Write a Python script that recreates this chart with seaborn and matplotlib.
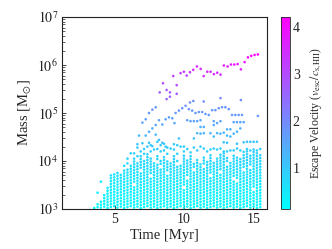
import numpy as np
import pandas as pd
import matplotlib
matplotlib.use("Agg")
import matplotlib.pyplot as plt
import seaborn as sns

# ============================================================================
# DATA
# ============================================================================

# snapshot times [Myr] of the dense low-mass band
snap_t = [3.50, 3.74, 3.98, 4.22, 4.46, 4.70, 4.94, 5.18, 5.42, 5.66,
          5.90, 6.14, 6.38, 6.62, 6.86, 7.10, 7.34, 7.58, 7.82, 8.06,
          8.30, 8.54, 8.78, 9.02, 9.26, 9.50, 9.74, 9.98, 10.22, 10.46,
          10.70, 10.94, 11.18, 11.42, 11.66, 11.90, 12.14, 12.38, 12.62, 12.86,
          13.10, 13.34, 13.58, 13.82, 14.06, 14.30, 14.54, 14.78, 15.02, 15.26,
          15.50]
# log10 of the highest mass reached by the dense band in each snapshot
band_top = [3.05, 3.10, 3.20, 3.30, 3.45, 3.75, 3.75, 3.78, 3.75, 3.80,
            3.85, 3.95, 4.05, 3.95, 4.10, 4.00, 4.15, 4.05, 4.00, 4.15,
            4.05, 4.10, 4.00, 3.95, 4.10, 4.00, 3.95, 4.15, 4.05, 4.10,
            3.95, 4.05, 3.95, 4.10, 4.00, 4.15, 4.05, 4.10, 4.15, 4.20,
            4.10, 4.00, 4.15, 4.10, 4.05, 4.15, 4.20, 4.15, 4.20, 4.20,
            4.15]
# small vertical offset of the band points in each snapshot
band_shift = [0.00, 0.02, 0.01, 0.03, 0.00, 0.02, 0.04, 0.01, 0.03, 0.00,
              0.02, 0.04, 0.01, 0.03, 0.00, 0.02, 0.04, 0.01, 0.03, 0.00,
              0.02, 0.04, 0.01, 0.03, 0.00, 0.02, 0.04, 0.01, 0.03, 0.00,
              0.02, 0.04, 0.01, 0.03, 0.00, 0.02, 0.04, 0.01, 0.03, 0.00,
              0.02, 0.04, 0.01, 0.03, 0.00, 0.02, 0.04, 0.01, 0.03, 0.00,
              0.02]
# mass levels (log10) inside the band and their escape velocities
band_logm = [3.02, 3.08, 3.14, 3.20, 3.26, 3.32, 3.38, 3.44, 3.50, 3.56,
             3.62, 3.68, 3.74, 3.80, 3.86, 3.92, 3.98, 4.04, 4.10, 4.16]
band_vesc = [0.22, 0.25, 0.28, 0.31, 0.34, 0.37, 0.40, 0.43, 0.46, 0.50,
             0.54, 0.58, 0.62, 0.66, 0.70, 0.74, 0.78, 0.82, 0.86, 0.90]
# levels that are empty in a given snapshot (snapshot index, level index)
band_gap_col = [14, 17, 20, 22, 25, 28, 30, 33, 35, 38, 40, 43, 45, 47, 12, 19, 27, 36, 42, 48]
band_gap_lev = [13, 11, 14, 12, 15, 10, 13, 14, 11, 12, 15, 9, 13, 14, 8, 16, 7, 16, 10, 6]

# sparse cyan clusters just above the band
upper_t = [3.74, 3.98, 5.66, 5.90, 5.90, 6.14, 6.38, 6.62, 6.62, 6.86,
           7.10, 7.10, 7.34, 7.58, 7.58, 7.82, 8.06, 8.06, 8.30, 8.30,
           8.54, 8.54, 8.78, 8.78, 9.02, 9.26, 9.26, 9.50, 9.50, 9.74,
           9.98, 9.98, 10.22, 10.46, 10.70, 10.94, 11.18, 11.42, 11.66, 11.90,
           12.14, 12.38, 12.62, 12.86, 13.10, 13.34, 13.58, 13.82, 14.06, 14.30,
           14.54, 14.78, 15.02, 15.26, 15.50]
upper_logm = [3.34, 3.57, 3.90, 3.95, 4.05, 4.16, 4.16, 4.10, 4.28, 4.20,
              4.25, 4.15, 4.30, 4.20, 4.33, 4.24, 4.25, 4.40, 4.20, 4.33,
              4.22, 4.36, 4.15, 4.28, 4.26, 4.24, 4.35, 4.15, 4.33, 4.30,
              4.20, 4.30, 4.25, 4.18, 4.28, 4.22, 4.30, 4.26, 4.20, 4.24,
              4.26, 4.24, 4.26, 4.20, 4.20, 4.22, 4.22, 4.26, 4.22, 4.19,
              4.25, 4.22, 4.24, 4.22, 4.25]
upper_vesc = [0.40, 0.50, 0.70, 0.72, 0.78, 0.85, 0.85, 0.82, 0.95, 0.88,
              0.90, 0.84, 0.95, 0.88, 0.98, 0.90, 0.90, 1.02, 0.88, 0.98,
              0.88, 1.00, 0.84, 0.95, 0.92, 0.90, 1.00, 0.84, 0.98, 0.95,
              0.88, 0.95, 0.90, 0.86, 0.95, 0.88, 0.95, 0.92, 0.88, 0.90,
              0.92, 0.90, 0.92, 0.88, 0.88, 0.90, 0.90, 0.92, 0.90, 0.86,
              0.92, 0.90, 0.90, 0.90, 0.92]

# blue intermediate clusters
mid_t = [6.62, 6.74, 6.98, 6.98, 7.22, 7.22, 7.46, 7.46, 7.46, 7.70,
         7.70, 7.70, 7.94, 7.94, 7.94, 8.18, 8.18, 8.42, 8.42, 8.66,
         8.66, 8.90, 9.14, 9.38, 9.62, 9.62, 9.86, 10.10, 10.34, 10.42,
         10.58, 10.66, 10.82, 11.06, 11.30, 11.41, 11.54, 11.78, 12.02, 12.26,
         12.50, 12.63, 12.74, 12.98, 13.22, 13.46, 13.70, 13.94, 14.10, 14.18,
         15.33, 10.22, 10.46, 10.70, 10.94, 11.18, 12.14, 12.38, 12.62, 13.58,
         13.82, 14.06, 14.30, 11.18, 11.42, 12.14, 13.10, 13.34, 13.82, 14.06,
         10.70, 10.94, 11.18, 11.42, 11.90, 12.14, 12.38, 12.62, 12.86, 13.10,
         13.34, 13.58, 12.86, 13.10, 13.82, 14.30, 14.54, 14.78, 15.02, 15.26,
         9.30]
mid_logm = [4.35, 4.53, 4.80, 4.37, 4.87, 4.53, 5.00, 4.61, 4.38, 5.07,
            4.68, 4.31, 5.12, 4.75, 4.55, 4.85, 4.44, 4.76, 4.38, 4.87,
            4.30, 4.91, 4.89, 5.00, 5.05, 4.47, 5.10, 5.15, 5.08, 5.22,
            5.05, 5.25, 5.00, 5.02, 5.02, 5.24, 4.98, 4.96, 5.06, 5.06,
            5.10, 5.31, 5.12, 5.12, 5.08, 4.96, 4.96, 4.96, 5.27, 4.96,
            4.94, 4.85, 4.83, 4.83, 4.83, 4.85, 4.83, 4.79, 4.83, 4.81,
            4.81, 4.81, 4.81, 4.71, 4.71, 4.75, 4.66, 4.66, 4.61, 4.68,
            4.47, 4.58, 4.57, 4.58, 4.58, 4.51, 4.58, 4.57, 4.59, 4.53,
            4.51, 4.57, 4.39, 4.38, 4.36, 4.39, 4.40, 4.40, 4.40, 4.40,
            4.79]
mid_vesc = [1.05, 1.20, 1.55, 1.05, 1.60, 1.25, 1.75, 1.35, 1.10, 1.80,
            1.40, 1.00, 1.85, 1.50, 1.25, 1.60, 1.15, 1.50, 1.10, 1.60,
            1.00, 1.65, 1.65, 1.75, 1.80, 1.15, 1.85, 1.90, 1.85, 1.95,
            1.80, 1.95, 1.75, 1.80, 1.80, 1.95, 1.75, 1.75, 1.80, 1.80,
            1.85, 2.00, 1.85, 1.85, 1.85, 1.75, 1.75, 1.75, 1.95, 1.75,
            1.75, 1.60, 1.60, 1.60, 1.60, 1.60, 1.60, 1.55, 1.60, 1.60,
            1.60, 1.60, 1.60, 1.45, 1.45, 1.50, 1.40, 1.40, 1.35, 1.40,
            1.15, 1.30, 1.30, 1.30, 1.30, 1.25, 1.30, 1.30, 1.30, 1.25,
            1.25, 1.30, 1.10, 1.10, 1.10, 1.10, 1.10, 1.10, 1.10, 1.10,
            1.55]

# violet / magenta massive clusters
top_t = [8.23, 8.47, 8.73, 8.73, 8.97, 8.97, 9.21, 9.46, 9.46,
         9.74, 9.98, 10.18, 10.42, 10.66, 10.92, 11.19, 11.41, 11.67, 11.91,
         12.15, 12.39, 12.63, 12.87, 13.14, 13.38, 13.62, 13.86, 14.10, 14.37,
         14.61, 14.85, 15.09, 15.33]
top_logm = [5.43, 5.62, 5.48, 5.29, 5.43, 5.34, 5.77, 5.58, 5.40,
            5.83, 5.86, 5.78, 5.85, 5.90, 5.97, 5.92, 5.77, 5.86, 5.86,
            5.81, 5.84, 5.80, 5.99, 5.97, 6.01, 6.01, 6.02, 5.91, 6.06,
            6.16, 6.19, 6.21, 6.22]
top_vesc = [2.70, 3.00, 2.80, 2.60, 2.80, 2.70, 3.20, 3.00, 2.80,
            3.30, 3.35, 3.30, 3.40, 3.50, 3.60, 3.55, 3.45, 3.55, 3.55,
            3.55, 3.60, 3.55, 3.75, 3.75, 3.80, 3.80, 3.85, 3.75, 3.95,
            4.05, 4.10, 4.15, 4.20]

vmin, vmax = 0.13, 4.21

# ============================================================================
# BUILD TABLE
# ============================================================================

gaps = set(zip(band_gap_col, band_gap_lev))
rows = []
for i, (t, top, dy) in enumerate(zip(snap_t, band_top, band_shift)):
    for j, (lm, v) in enumerate(zip(band_logm, band_vesc)):
        if lm + dy <= top + 1e-9 and (i, j) not in gaps:
            rows.append((t, 10 ** (lm + dy), v))
for tt, lms, vs in [(upper_t, upper_logm, upper_vesc),
                    (mid_t, mid_logm, mid_vesc),
                    (top_t, top_logm, top_vesc)]:
    for t, lm, v in zip(tt, lms, vs):
        rows.append((t, 10 ** lm, v))
df = pd.DataFrame(rows, columns=["time", "mass", "vesc"])

# ============================================================================
# PLOT
# ============================================================================

sns.set_style("ticks")
plt.rcParams["font.family"] = ["Liberation Serif", "DejaVu Serif"]
plt.rcParams["mathtext.fontset"] = "stix"

fig = plt.figure(figsize=(3.32, 2.49), dpi=100)
ax = fig.add_axes([0.1877, 0.1606, 0.617, 0.771])
cax = fig.add_axes([0.8455, 0.1606, 0.028, 0.771])

norm = plt.Normalize(vmin, vmax)
sns.scatterplot(data=df, x="time", y="mass", hue="vesc", palette="cool",
                hue_norm=norm, s=3.5, linewidth=0, legend=False, ax=ax)

ax.set_yscale("log")
ax.set_ylim(1e3, 1e7)
ax.set_xlim(1.19, 16.0)
ax.set_xticks([5, 10, 15])
ax.set_yticks([1e3, 1e4, 1e5, 1e6, 1e7])
ax.set_yticklabels([r"$10^{3}$", r"$10^{4}$", r"$10^{5}$", r"$10^{6}$", r"$10^{7}$"])
ax.set_xlabel("Time [Myr]", fontsize=10.5, labelpad=2)
ax.set_ylabel(r"Mass [M$_{\odot}$]", fontsize=10.5, labelpad=3)
ax.tick_params(axis="both", which="both", direction="in", labelsize=10,
               colors="#222222", top=False, right=False)
ax.tick_params(axis="both", which="major", length=3, width=0.6, pad=3)
ax.tick_params(axis="y", which="minor", length=1.8, width=0.5)
ax.tick_params(axis="x", which="minor", bottom=False)
for sp in ax.spines.values():
    sp.set_linewidth(0.8)
    sp.set_color("#222222")

sm = plt.cm.ScalarMappable(cmap="cool", norm=norm)
cb = fig.colorbar(sm, cax=cax)
cb.set_ticks([1, 2, 3, 4])
cb.ax.tick_params(direction="in", length=3, width=0.6, labelsize=10, pad=2)
cb.outline.set_linewidth(0.6)
cb.set_label(r"Escape Velocity ($v_{\rm esc}/c_{\rm s,HII}$)", fontsize=8.5, labelpad=6)

fig.savefig("out.png", dpi=100)
